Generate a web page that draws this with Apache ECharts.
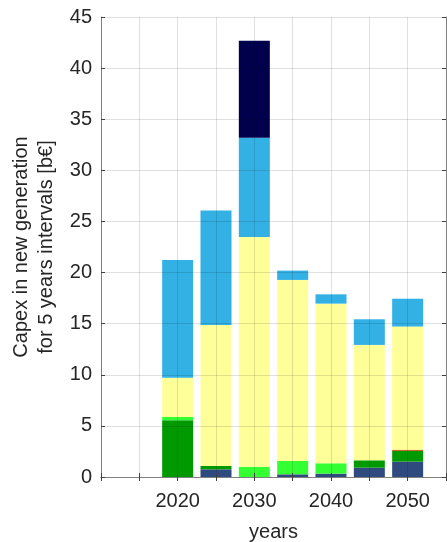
<!DOCTYPE html>
<html>
<head>
<meta charset="utf-8">
<script src="https://cdn.jsdelivr.net/npm/echarts@6/dist/echarts.min.js"></script>
<style>html,body{margin:0;padding:0;background:#fff}#c{width:447px;height:542px}</style>
</head>
<body>
<div id="c"></div>
<script>
const axisYears = ['2010', '2015', '2020', '2025', '2030', '2035', '2040', '2045', '2050', '2055'];
const years = ['2020', '2025', '2030', '2035', '2040', '2045', '2050'];
const xTickLabels = ['2020', '2030', '2040', '2050'];
const yTickLabels = [0, 5, 10, 15, 20, 25, 30, 35, 40, 45];
const darkBlue   = [0, 0.75, 0, 0.26, 0.33, 0.91, 1.5];
const green      = [5.55, 0.33, 0, 0, 0, 0.72, 1.05];
const lightGreen = [0.32, 0, 0.98, 1.31, 1.01, 0, 0];
const red        = [0, 0, 0, 0, 0, 0, 0.12];
const yellow     = [3.85, 13.79, 22.5, 17.71, 15.62, 11.29, 12.05];
const skyBlue    = [11.5, 11.19, 9.7, 0.91, 0.91, 2.51, 2.72];
const navy       = [0, 0, 9.5, 0, 0, 0, 0];

const seriesDefs = [
  ['darkBlue', darkBlue, '#2e4a7e'],
  ['green', green, '#009a00'],
  ['lightGreen', lightGreen, '#33ff33'],
  ['red', red, '#c85a1e'],
  ['yellow', yellow, '#ffff99'],
  ['skyBlue', skyBlue, '#33b1e4'],
  ['navy', navy, '#00004d']
];

function toAxis(vals) {
  return axisYears.map(y => {
    const i = years.indexOf(y);
    return i >= 0 ? vals[i] : 0;
  });
}

const font = 'Liberation Sans, Arial, sans-serif';
const txt = '#262626';
const chart = echarts.init(document.getElementById('c'), null, {renderer: 'canvas'});
chart.setOption({
  animation: false,
  grid: {left: 101, top: 17, right: 1, bottom: 65, containLabel: false, outerBoundsMode: 'none'},
  xAxis: [{
    type: 'category', data: axisYears, boundaryGap: false, z: 10,
    name: 'years', nameLocation: 'middle', nameGap: 45,
    nameTextStyle: {fontFamily: font, fontSize: 20, color: txt},
    axisLine: {show: true, onZero: false, lineStyle: {color: '#808080', width: 1}},
    axisTick: {show: true, inside: true, length: 4, lineStyle: {color: '#404040'}},
    axisLabel: {fontFamily: font, fontSize: 20, color: txt, margin: 14, interval: 0,
      showMaxLabel: false,
      formatter: v => xTickLabels.indexOf(v) >= 0 ? v : ''},
    splitLine: {show: true, interval: 0, lineStyle: {color: 'rgba(0,0,0,0.12)', width: 1}}
  }, {
    type: 'category', data: axisYears, boundaryGap: false, position: 'top', z: 10,
    axisLine: {show: true, lineStyle: {color: '#808080', width: 1}},
    axisTick: {show: true, inside: true, length: 4, lineStyle: {color: '#404040'}},
    axisLabel: {show: false}, splitLine: {show: false}
  }],
  yAxis: [{
    type: 'value', min: 0, max: 45, interval: 5, z: 10,
    name: 'Capex in new generation\nfor 5 years intervals [b€]',
    nameLocation: 'middle', nameGap: 40, nameRotate: 90,
    nameTextStyle: {fontFamily: font, fontSize: 20, color: txt, lineHeight: 25},
    axisLine: {show: true, lineStyle: {color: '#808080', width: 1}},
    axisTick: {show: true, inside: true, length: 4, lineStyle: {color: '#404040'}},
    axisLabel: {fontFamily: font, fontSize: 20, color: txt, margin: 9,
      formatter: v => yTickLabels.indexOf(v) >= 0 ? String(v) : ''},
    splitLine: {show: true, lineStyle: {color: 'rgba(0,0,0,0.12)', width: 1}}
  }, {
    type: 'value', position: 'right', min: 0, max: 45, interval: 5, z: 10,
    axisLine: {show: true, lineStyle: {color: '#808080', width: 1}},
    axisTick: {show: true, inside: true, length: 4, lineStyle: {color: '#404040'}},
    axisLabel: {show: false}, splitLine: {show: false}
  }],
  series: seriesDefs.map(([name, vals, color]) => ({
    name, type: 'bar', stack: 'total', barWidth: 31, xAxisIndex: 0, yAxisIndex: 0,
    itemStyle: {color},
    data: toAxis(vals)
  }))
});
</script>
</body>
</html>
